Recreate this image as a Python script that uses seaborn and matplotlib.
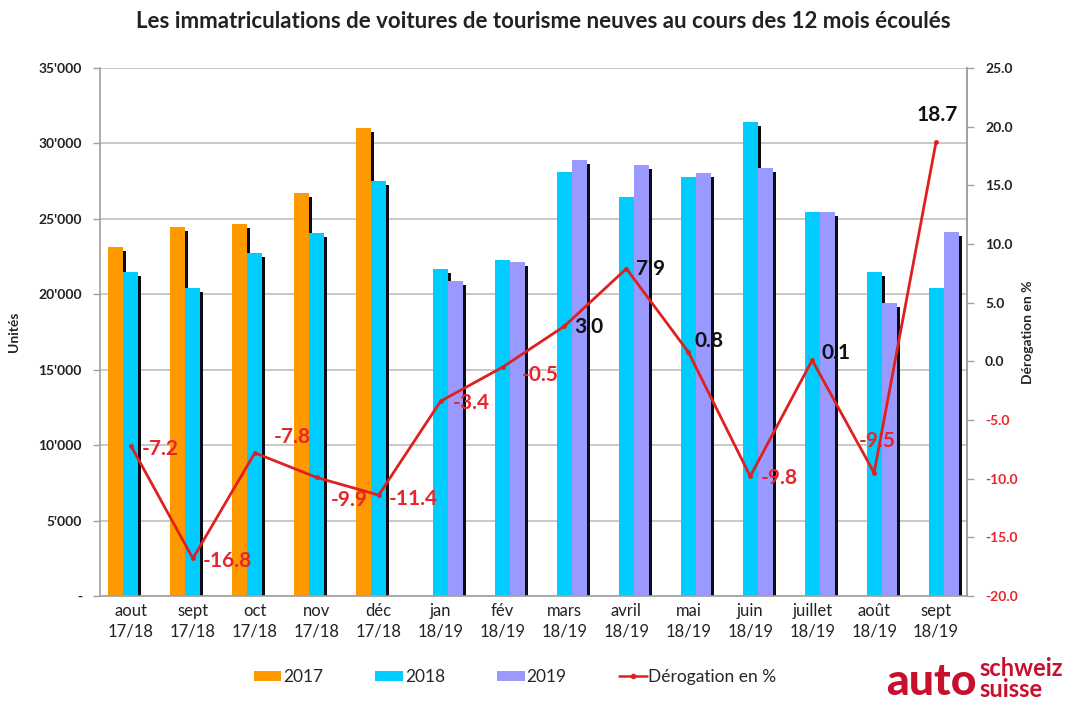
import numpy as np
import pandas as pd
import matplotlib
matplotlib.use("Agg")
import matplotlib.pyplot as plt
from matplotlib.patches import Rectangle, Patch
from matplotlib.lines import Line2D
from matplotlib.ticker import FuncFormatter, MultipleLocator
import seaborn as sns

# ---------------- data ----------------
months = ["aout\n17/18", "sept\n17/18", "oct\n17/18", "nov\n17/18", "déc\n17/18",
          "jan\n18/19", "fév\n18/19", "mars\n18/19", "avril\n18/19", "mai\n18/19",
          "juin\n18/19", "juillet\n18/19", "août\n18/19", "sept\n18/19"]
nan = np.nan
v2017 = [23150, 24480, 24660, 26690, 31030, nan, nan, nan, nan, nan, nan, nan, nan, nan]
v2018 = [21450, 20400, 22720, 24040, 27510, 21660, 22250, 28110, 26470, 27800, 31440, 25475, 21500, 20400]
v2019 = [nan, nan, nan, nan, nan, 20880, 22120, 28900, 28590, 28040, 28350, 25475, 19400, 24150]
pct = [-7.2, -16.8, -7.8, -9.9, -11.4, -3.4, -0.5, 3.0, 7.9, 0.8, -9.8, 0.1, -9.5, 18.7]
years = ["2017", "2018", "2019"]
line_label = "Dérogation en %"

# label offsets (pixels) for the % annotations
lab_dx = [11, 10, 19, 14, 10, 12, 19, 10, 10, 6, 10, 9, -15, -19]
lab_dy = [-3, -3, 16, -23, -4, -2, -8, -1, 0, 11, -2, 7, 32, 27]

colors = {"2017": "#FF9900", "2018": "#00CCFF", "2019": "#9999FF"}
red = "#E0201F"
txt_red = "#E8252B"
grid_c = "#BFBFBF"

rows = []
for i, m in enumerate(months):
    for y, vals in zip(years, [v2017, v2018, v2019]):
        rows.append({"mois": m, "annee": y, "val": vals[i]})
df = pd.DataFrame(rows)

sns.set_theme(style="white")
plt.rcParams["font.family"] = ["Lato", "DejaVu Sans"]

fig = plt.figure(figsize=(10.71, 7.02), dpi=100)
ax = fig.add_axes([100 / 1071, 1 - 596 / 702, 867 / 1071, 528 / 702])

sns.barplot(data=df, x="mois", y="val", hue="annee", hue_order=years, order=months,
            palette=colors, width=0.73, errorbar=None, ax=ax, legend=False,
            saturation=1, zorder=2, linewidth=0)

# shadow strips behind each bar
px_x = 14 / 867.0   # data units per pixel in x
px_y = 35000 / 528.0
for p in list(ax.patches):
    h = p.get_height()
    if not np.isfinite(h) or h <= 0:
        continue
    x = p.get_x()
    w = p.get_width()
    ax.add_patch(Rectangle((x + 3 * px_x, 0), w, h - 4 * px_y, facecolor="#0c0c14",
                           edgecolor="none", zorder=1.5))

ax.set_xlim(-0.5, 13.5)
ax.set_ylim(0, 35000)
ax.yaxis.set_major_locator(MultipleLocator(5000))
ax.yaxis.set_major_formatter(FuncFormatter(
    lambda v, p: "-" if v == 0 else f"{int(v):,}".replace(",", "'")))
ax.grid(axis="y", color=grid_c, linewidth=1.2, zorder=0)
ax.set_axisbelow(True)
ax.set_xlabel("")
ax.set_ylabel("Unités", fontsize=10, fontweight="bold", labelpad=13)
ax.set_xticks(range(len(months)))
ax.set_xticklabels(months, fontsize=12, color="#222222", linespacing=1.35)
ax.set_xticks(np.arange(-0.5, 14, 1), minor=True)
ax.tick_params(axis="x", which="major", length=0, pad=5)
ax.tick_params(axis="x", which="minor", length=6, width=1, color="#A0A0A0", direction="out")
ax.tick_params(axis="y", length=5, width=1, color="#A0A0A0", direction="out", pad=8,
               labelsize=10)
for t in ax.get_yticklabels():
    t.set_fontweight("bold")
    t.set_color("#222222")
for s in ["top"]:
    ax.spines[s].set_visible(False)
for s in ["left", "bottom", "right"]:
    ax.spines[s].set_color("#A0A0A0")
    ax.spines[s].set_linewidth(1.2)

# secondary axis line
ax2 = ax.twinx()
xs = np.arange(len(months))
sns.lineplot(x=xs, y=pct, ax=ax2, color=red, linewidth=2, marker="o", markersize=3.5,
             markeredgewidth=0, zorder=5)
ax2.set_ylim(-20, 25)
ax2.yaxis.set_major_locator(MultipleLocator(5))
ax2.yaxis.set_major_formatter(FuncFormatter(lambda v, p: f"{v:.1f}"))
ax2.tick_params(axis="y", length=5, width=1, color="#A0A0A0", direction="out", pad=8,
                labelsize=10)
ax2.set_ylabel(line_label, fontsize=10, fontweight="bold", labelpad=3)
ax2.grid(False)
for s in ["top", "left", "bottom"]:
    ax2.spines[s].set_visible(False)
ax2.spines["right"].set_color("#A0A0A0")
ax2.spines["right"].set_linewidth(1.2)
fig.canvas.draw()
for t, v in zip(ax2.get_yticklabels(), ax2.get_yticks()):
    t.set_fontweight("bold")
    t.set_color(txt_red if v < 0 else "#222222")

for i, v in enumerate(pct):
    ax2.annotate(f"{v:.1f}", (xs[i], v), xytext=(lab_dx[i], lab_dy[i]),
                 textcoords="offset pixels", ha="left", va="center",
                 fontsize=15, fontweight="bold",
                 color=txt_red if v < 0 else "#111111", zorder=6)

fig.text(543 / 1071, 1 - 22 / 702, "Les immatriculations de voitures de tourisme neuves au cours des 12 mois écoulés",
         ha="center", va="center", fontsize=16, fontweight="bold", color="#222222")

handles = [Patch(facecolor=colors[y], edgecolor="none", label=y) for y in years]
handles.append(Line2D([0], [0], color=red, lw=1.8, marker="o", markersize=3, label=line_label))
fig.legend(handles=handles, loc="center", bbox_to_anchor=(515 / 1071, 1 - 677 / 702),
           ncol=4, frameon=False, fontsize=12.5, handlelength=1.6, handleheight=0.55,
           handletextpad=0.1, columnspacing=3.0)

logo_c = "#C8102E"
fig.text(886 / 1071, 1 - 695 / 702, "auto", ha="left", va="baseline", fontsize=32,
         fontweight="black", color=logo_c)
fig.text(979 / 1071, 1 - 676 / 702, "schweiz", ha="left", va="baseline", fontsize=17,
         fontweight="bold", color=logo_c)
fig.text(979 / 1071, 1 - 697 / 702, "suisse", ha="left", va="baseline", fontsize=17,
         fontweight="bold", color=logo_c)

fig.savefig("out.png", dpi=100)
